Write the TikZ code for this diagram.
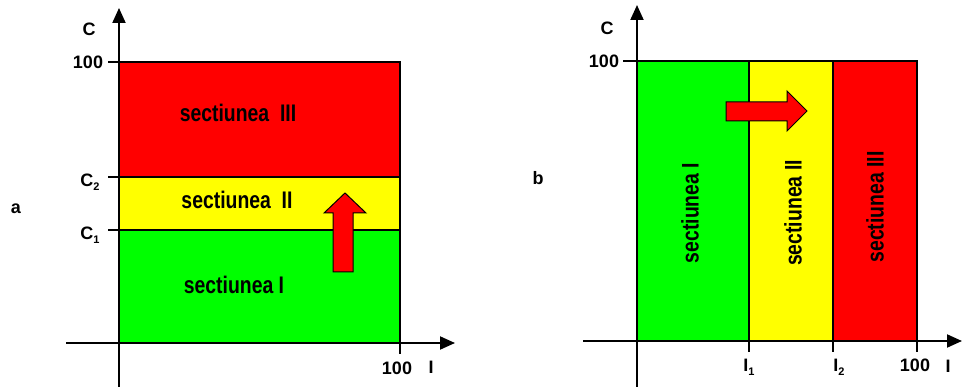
\documentclass[tikz,border=0pt]{standalone}
\usepackage{fontspec}
\setmainfont{Liberation Sans}
\usetikzlibrary{arrows.meta}
\definecolor{sred}{RGB}{255,0,0}
\definecolor{syel}{RGB}{255,255,0}
\definecolor{sgrn}{RGB}{0,255,0}
\newcommand{\subx}[1]{\raisebox{-4pt}{\fontsize{11}{11}\selectfont #1}}
\newcommand{\tallx}[1]{\scalebox{0.97}[1.2]{#1}}
\begin{document}
\begin{tikzpicture}[x=1pt,y=-1pt,
  axis/.style={line width=2pt,-{Triangle[length=15pt,width=13pt]}},
  zone/.style={draw=black,line width=1.5pt},
  tickmark/.style={line width=1.5pt},
  lbl/.style={font=\bfseries\fontsize{20}{20}\selectfont,inner sep=0pt},
  ax/.style={font=\bfseries\fontsize{18}{18}\selectfont,inner sep=0pt},
  blockarrow/.style={fill=sred,draw=black,line width=1pt,line join=miter}]
\useasboundingbox (0,0) rectangle (962,387);

% ---------- left chart (a) ----------
\draw[zone,fill=sred] (119,62) rectangle (400,177);
\draw[zone,fill=syel] (119,177) rectangle (400,230);
\draw[zone,fill=sgrn] (119,230) rectangle (400,343);

\coordinate (aYb) at (119,387);
\coordinate (aYt) at (119,8);
\coordinate (aXl) at (66,343);
\coordinate (aXr) at (455,343);
\draw[axis] (aYb) -- (aYt);
\draw[axis] (aXl) -- (aXr);

\draw[tickmark] (108,62) -- (119,62);
\draw[tickmark] (108,177) -- (119,177);
\draw[tickmark] (108,230) -- (119,230);
\draw[tickmark] (400,343) -- (400,354);

\node[ax] (aC) at (89,29) {C};
\node[ax] (a100) at (88,62) {100};
\node[ax] (aC2) at (90,182) {C\subx{2}};
\node[ax] (aC1) at (90,235) {C\subx{1}};
\node[ax] (aX100) at (397,368) {100};
\node[ax] (aI) at (431,367) {I};
\node[ax] (aa) at (16,209) {a};

\node[lbl] (s3) at (238,113) {\tallx{sectiunea\ \ III}};
\node[lbl] (s2) at (237,200) {\tallx{sectiunea\ \ II}};
\node[lbl] (s1) at (234,285) {\tallx{sectiunea I}};

\draw[blockarrow] (333,272) -- (333,213) -- (324,213) -- (345,193) -- (366,213) -- (353,213) -- (353,272) -- cycle;

% ---------- right chart (b) ----------
\draw[zone,fill=sgrn] (637,61) rectangle (749,341);
\draw[zone,fill=syel] (749,61) rectangle (833,341);
\draw[zone,fill=sred] (833,61) rectangle (917,341);

\coordinate (bYb) at (637,387);
\coordinate (bYt) at (637,5);
\coordinate (bXl) at (583,341);
\coordinate (bXr) at (962,341);
\draw[axis] (bYb) -- (bYt);
\draw[axis] (bXl) -- (bXr);

\draw[tickmark] (623,61) -- (637,61);
\draw[tickmark] (749,341) -- (749,352);
\draw[tickmark] (833,341) -- (833,352);
\draw[tickmark] (917,341) -- (917,352);

\node[ax] (bC) at (607,28) {C};
\node[ax] (b100) at (604,61) {100};
\node[ax] (bb) at (538,178) {b};
\node[ax] (bI1) at (749,367) {I\subx{1}};
\node[ax] (bI2) at (839,367) {I\subx{2}};
\node[ax] (bX100) at (915,365) {100};
\node[ax] (bI) at (948,366) {I};

\node[lbl,rotate=90] (r1) at (690,213) {\tallx{sectiunea I}};
\node[lbl,rotate=90] (r2) at (793,213) {\tallx{sectiunea II}};
\node[lbl,rotate=90] (r3) at (875,207) {\tallx{sectiunea III}};

\draw[blockarrow] (726,102) -- (787,102) -- (787,91) -- (807,111) -- (787,131) -- (787,121) -- (726,121) -- cycle;
\end{tikzpicture}
\end{document}
